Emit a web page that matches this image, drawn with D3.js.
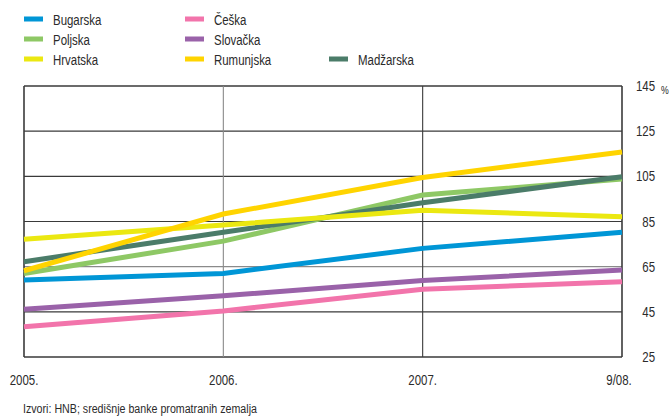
<!DOCTYPE html>
<html>
<head>
<meta charset="utf-8">
<script src="https://cdn.jsdelivr.net/npm/d3@7"></script>
<style>
  html, body { margin: 0; padding: 0; background: #fff; }
  svg text { font-family: "Liberation Sans", Arial, sans-serif; fill: #2b2b2b; }
</style>
</head>
<body>
<svg id="chart" width="671" height="418"></svg>
<script>
// Periods on the horizontal axis
const periods = ["2005.", "2006.", "2007.", "9/08."];

// Index values per country (%)
const bugarska  = [59.1, 62.0, 73.1, 80.2];
const ceska     = [38.4, 45.4, 55.0, 58.3];
const poljska   = [62.0, 76.3, 96.7, 103.8];
const slovacka  = [46.1, 52.1, 58.9, 63.5];
const hrvatska  = [77.1, 83.4, 90.0, 87.1];
const rumunjska = [63.2, 88.3, 104.5, 115.8];
const madzarska = [67.2, 80.2, 93.3, 104.8];

// Y axis ticks
const yTicks = [25, 45, 65, 85, 105, 125, 145];

const series = [
  { name: "Bugarska",  values: bugarska,  color: "#0096d6", col: 0, row: 0 },
  { name: "Češka",     values: ceska,     color: "#f274ab", col: 1, row: 0 },
  { name: "Poljska",   values: poljska,   color: "#8ec865", col: 0, row: 1 },
  { name: "Slovačka",  values: slovacka,  color: "#9a62a9", col: 1, row: 1 },
  { name: "Madžarska", values: madzarska, color: "#4b7c69", col: 2, row: 2 },
  { name: "Hrvatska",  values: hrvatska,  color: "#ebe811", col: 0, row: 2 },
  { name: "Rumunjska", values: rumunjska, color: "#ffd400", col: 1, row: 2 }
];

// Condensed look: regular sans squeezed horizontally
const SQUEEZE = 0.79;
const FONT = "14.5px";

const svg = d3.select("#chart");
const plotLeft = 24, plotRight = 622, plotTop = 86, plotBottom = 357;

const x = d3.scalePoint().domain(periods).range([plotLeft, plotRight]);
const y = d3.scaleLinear().domain([25, 145]).range([plotBottom, plotTop]);

// Place a condensed text label at (px, py)
function label(parent, px, py, str, size, anchor) {
  return parent.append("text")
    .attr("transform", `translate(${px},${py}) scale(${SQUEEZE},1)`)
    .attr("text-anchor", anchor || "start")
    .style("font-size", size || FONT)
    .text(str);
}

// Horizontal grid lines
svg.append("g").selectAll("line").data(yTicks).join("line")
  .attr("x1", plotLeft).attr("x2", plotRight)
  .attr("y1", d => y(d)).attr("y2", d => y(d))
  .attr("stroke", d => d === 65 ? "#8a8a8a" : "#3a3a3a")
  .attr("stroke-width", d => (d === 25 || d === 145) ? 1.6 : 1.1);

// Vertical grid lines
svg.append("g").selectAll("line").data(periods).join("line")
  .attr("x1", d => x(d)).attr("x2", d => x(d))
  .attr("y1", plotTop).attr("y2", plotBottom)
  .attr("stroke", d => d === "2006." ? "#8a8a8a" : "#3a3a3a")
  .attr("stroke-width", (d, i) => (i === 0 || i === periods.length - 1) ? 1.6 : 1.1);

// Series lines
const line = d3.line().x((d, i) => x(periods[i])).y(d => y(d));
svg.append("g").selectAll("path").data(series).join("path")
  .attr("d", d => line(d.values))
  .attr("fill", "none")
  .attr("stroke", d => d.color)
  .attr("stroke-width", 5);

// Y axis labels on the right
const yAxis = d3.axisRight(y).tickValues(yTicks).tickSize(0).tickPadding(0);
const gy = svg.append("g").attr("transform", "translate(655,0)").call(yAxis);
gy.select(".domain").remove();
gy.selectAll("text")
  .attr("text-anchor", "end")
  .attr("x", 0)
  .attr("transform", `scale(${SQUEEZE},1)`)
  .style("font-size", FONT);
label(svg, 661, 94, "%", "11px");

// X axis labels
const xAxis = d3.axisBottom(x).tickSize(0).tickPadding(0);
const gx = svg.append("g").attr("transform", `translate(0,${plotBottom})`).call(xAxis);
gx.select(".domain").remove();
gx.selectAll(".tick")
  .attr("transform", d => `translate(${x(d) + (d === "9/08." ? -3 : 0)},0)`);
gx.selectAll("text")
  .attr("y", 28)
  .attr("dy", 0)
  .attr("transform", `scale(${SQUEEZE},1)`)
  .style("font-size", FONT);

// Legend
const colX = [24, 185, 329];
const rowY = [19, 39, 59];
const lg = svg.append("g").selectAll("g").data(series).join("g")
  .attr("transform", d => `translate(${colX[d.col]},${rowY[d.row]})`);
lg.append("rect").attr("x", 0).attr("y", -2.5).attr("width", 19).attr("height", 5).attr("fill", d => d.color);
lg.each(function(d) { label(d3.select(this), 29, 5.5, d.name); });

// Source note
label(svg, 23, 413, "Izvori: HNB; središnje banke promatranih zemalja", "13.5px");
</script>
</body>
</html>
